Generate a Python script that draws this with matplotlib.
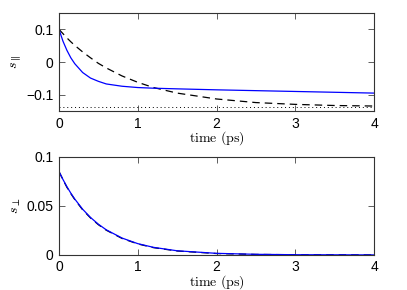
import matplotlib
matplotlib.use("Agg")
import matplotlib.pyplot as plt

plt.rcParams['font.family'] = ['Liberation Sans', 'DejaVu Sans']
plt.rcParams['mathtext.fontset'] = 'cm'

# time grid (ps)
t = [0, 0.05, 0.1, 0.15, 0.2, 0.3, 0.4, 0.5, 0.6, 0.8, 1.0, 1.2, 1.5, 2.0, 2.5, 3.0, 3.5, 4.0]

# s_parallel
par_blue = [0.100, 0.064, 0.036, 0.013, -0.005, -0.032, -0.049, -0.059, -0.067, -0.074,
            -0.078, -0.080, -0.082, -0.085, -0.0875, -0.090, -0.0925, -0.095]
par_dash = [0.100, 0.087, 0.074, 0.062, 0.051, 0.031, 0.013, -0.004, -0.018, -0.0425,
            -0.062, -0.078, -0.095, -0.113, -0.124, -0.1295, -0.133, -0.1346]
par_limit = -0.137

# s_perp
perp_blue = [0.085, 0.077, 0.0696, 0.063, 0.057, 0.0466, 0.0382, 0.0313, 0.0256, 0.0172,
             0.0115, 0.0077, 0.0042, 0.0016, 0.0006, 0.0002, 0.0001, 0.0]
perp_dash = [0.085, 0.0768, 0.069, 0.0625, 0.0565, 0.046, 0.0377, 0.0308, 0.0252, 0.0168,
             0.0112, 0.0074, 0.0040, 0.0014, 0.0005, 0.0002, 0.0001, 0.0]

fig = plt.figure(figsize=(4.07, 2.9), dpi=100)
ax1 = fig.add_axes([0.145, 0.617, 0.774, 0.338])
ax2 = fig.add_axes([0.145, 0.121, 0.774, 0.338])

ax1.plot([0, 4], [par_limit, par_limit], color='k', linestyle=(0, (1, 3)), linewidth=0.7)
ax1.plot(t, par_dash, color='k', linestyle=(0, (6, 4)), linewidth=0.9)
ax1.plot(t, par_blue, color='b', linewidth=0.9)
ax1.set_ylim(-0.15, 0.15)
ax1.set_yticks([-0.1, 0, 0.1])
ax1.set_yticklabels(['\u22120.1', '0', '0.1'])
ax1.set_ylabel(r'$s_\parallel$', fontsize=10)

ax2.plot(t, perp_dash, color='k', linestyle=(0, (6, 4)), linewidth=0.9)
ax2.plot(t, perp_blue, color='b', linewidth=0.9)
ax2.set_ylim(0, 0.1)
ax2.set_yticks([0, 0.05, 0.1])
ax2.set_yticklabels(['0', '0.05', '0.1'])
ax2.set_ylabel(r'$s_\perp$', fontsize=10)

for ax in (ax1, ax2):
    ax.set_xlim(0, 4)
    ax.set_xticks([0, 1, 2, 3, 4])
    ax.set_xlabel(r'$\mathrm{time\ (ps)}$', fontsize=10, labelpad=-1)
    ax.tick_params(direction='in', top=True, right=True, length=4, width=0.6,
                   labelsize=10, color='#444444', pad=4)
    ax.yaxis.set_label_coords(-0.115, 0.5)
    for s in ax.spines.values():
        s.set_linewidth(0.8)
        s.set_color('#333333')

fig.savefig('out.png', dpi=100)
